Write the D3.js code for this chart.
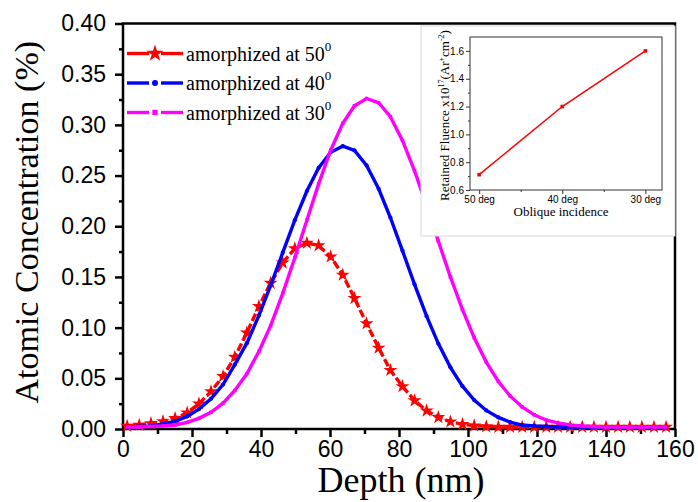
<!DOCTYPE html>
<html>
<head>
<meta charset="utf-8">
<script src="https://cdn.jsdelivr.net/npm/d3@7"></script>
<style>
  body { margin: 0; background: #fff; }
  svg { display: block; }
  .tick text { font-family: "Liberation Sans", Arial, sans-serif; fill: #000; }
  .axisTitle { font-family: "Liberation Serif", "Times New Roman", serif; fill: #000; }
</style>
</head>
<body>
<div id="chart"></div>
<script>
// ----- DATA ------------------------------------------------------------
const depth = [1.2, 4.7, 8.1, 11.6, 15.1, 18.6, 22.0, 25.5, 29.0, 32.4, 35.9, 39.4, 42.8, 46.3, 49.8,
  53.3, 56.7, 60.2, 63.7, 67.1, 70.6, 74.1, 77.5, 81.0, 84.5, 88.0, 91.4, 94.9, 98.4, 101.8,
  105.3, 108.8, 112.2, 115.7, 119.2, 122.7, 126.1, 129.6, 133.1, 136.5, 140.0, 143.5, 146.9,
  150.4, 153.9, 157.4];

const conc50 = [0.003, 0.004, 0.0055, 0.0075, 0.0105, 0.016, 0.025, 0.037, 0.052, 0.071, 0.095,
  0.121, 0.144, 0.164, 0.178, 0.1835, 0.181, 0.170, 0.152, 0.129, 0.104, 0.080, 0.058, 0.042,
  0.028, 0.018, 0.0115, 0.0072, 0.0046, 0.0033, 0.0025, 0.002, 0.002, 0.002, 0.002, 0.002,
  0.002, 0.002, 0.002, 0.002, 0.002, 0.002, 0.002, 0.002, 0.002, 0.002];

const conc40 = [0.002, 0.0025, 0.003, 0.005, 0.0076, 0.0124, 0.0195, 0.0298, 0.0439, 0.0635,
  0.0847, 0.112, 0.1416, 0.1739, 0.206, 0.2347, 0.2575, 0.273, 0.279, 0.2748, 0.260, 0.237,
  0.2086, 0.176, 0.1427, 0.1113, 0.0842, 0.0608, 0.0422, 0.0285, 0.0183, 0.0114, 0.0068,
  0.0039, 0.003, 0.0025, 0.002, 0.002, 0.002, 0.002, 0.002, 0.002, 0.002, 0.002, 0.002, 0.002];

const conc30 = [0.002, 0.002, 0.0025, 0.003, 0.004, 0.0065, 0.0105, 0.0165, 0.0255, 0.038,
  0.0545, 0.0765, 0.102, 0.1338, 0.169, 0.206, 0.2418, 0.275, 0.3016, 0.3189, 0.326, 0.3218,
  0.308, 0.2846, 0.2547, 0.2203, 0.1853, 0.150, 0.1177, 0.090, 0.066, 0.0469, 0.0326, 0.0217,
  0.014, 0.0087, 0.006, 0.004, 0.003, 0.0025, 0.002, 0.002, 0.002, 0.002, 0.002, 0.002];

const seriesNames = ["amorphized at 50", "amorphized at 40", "amorphized at 30"];

const xTicks = [0, 20, 40, 60, 80, 100, 120, 140, 160];
const yTicks = [0.00, 0.05, 0.10, 0.15, 0.20, 0.25, 0.30, 0.35, 0.40];

// inset
const insetAngles = ["50 deg", "40 deg", "30 deg"];
const insetFluence = [0.71, 1.20, 1.60];
const insetYTicks = [0.6, 0.8, 1.0, 1.2, 1.4, 1.6];

// ----- HELPERS ---------------------------------------------------------
// writes text pieces one after another, superscripts as their own text nodes
function _richText( parent, parts, size, supSize, supRise, anchorMiddle )
{
    const grp = parent.append("g");
    let cursor = 0;
    parts.forEach(p => {
        const t = grp.append("text")
            .attr("class", "axisTitle")
            .attr("x", cursor)
            .attr("y", p.sup ? -supRise : 0)
            .style("font-size", (p.sup ? supSize : size) + "px")
            .text(p.text);
        cursor += t.node().getComputedTextLength();
    });
    if( anchorMiddle )
    {
        grp.selectAll("text").attr("x", function() {
            return +d3.select(this).attr("x") - cursor / 2;
        });
    }
    return grp;
}

// ----- CHART -----------------------------------------------------------
const width = 698, height = 502;
const margin = { top: 23.5, right: 23, bottom: 73, left: 123 };
const innerWidth = width - margin.left - margin.right;
const innerHeight = height - margin.top - margin.bottom;

const svg = d3.select("#chart").append("svg")
    .attr("width", width)
    .attr("height", height);

const g = svg.append("g")
    .attr("transform", "translate(" + margin.left + "," + margin.top + ")");

const x = d3.scaleLinear().domain([0, 160]).range([0, innerWidth]);
const y = d3.scaleLinear().domain([0, 0.40]).range([innerHeight, 0]);

// minor ticks (no labels)
g.append("g")
    .attr("transform", "translate(0," + innerHeight + ")")
    .call(d3.axisBottom(x).tickValues(d3.range(10, 160, 20)).tickSize(5))
    .call(a => a.select(".domain").remove())
    .call(a => a.selectAll("text").remove())
    .selectAll("line").attr("stroke", "#000").attr("stroke-width", 2.5);

g.append("g")
    .call(d3.axisLeft(y).tickValues(d3.range(0.025, 0.4, 0.05)).tickSize(4))
    .call(a => a.select(".domain").remove())
    .call(a => a.selectAll("text").remove())
    .selectAll("line").attr("stroke", "#000").attr("stroke-width", 2.5);

// major axes
g.append("g")
    .attr("transform", "translate(0," + innerHeight + ")")
    .call(d3.axisBottom(x).tickValues(xTicks).tickSize(8).tickPadding(4).tickFormat(d3.format("d")))
    .call(a => a.select(".domain").remove())
    .call(a => a.selectAll("line").attr("stroke", "#000").attr("stroke-width", 2.5))
    .call(a => a.selectAll("text").style("font-size", "23px"));

g.append("g")
    .call(d3.axisLeft(y).tickValues(yTicks).tickSize(8).tickPadding(9).tickFormat(d3.format(".2f")))
    .call(a => a.select(".domain").remove())
    .call(a => a.selectAll("line").attr("stroke", "#000").attr("stroke-width", 2.5))
    .call(a => a.selectAll("text").style("font-size", "23px"));

// frame
g.append("rect")
    .attr("width", innerWidth)
    .attr("height", innerHeight)
    .attr("fill", "none")
    .attr("stroke", "#000")
    .attr("stroke-width", 2.5);

// axis titles
svg.append("text")
    .attr("class", "axisTitle")
    .attr("text-anchor", "middle")
    .attr("transform", "translate(38," + (margin.top + innerHeight / 2 - 4) + ") rotate(-90)")
    .style("font-size", "34px")
    .text("Atomic Concentration (%)");

svg.append("text")
    .attr("class", "axisTitle")
    .attr("text-anchor", "middle")
    .attr("x", margin.left + innerWidth / 2 + 2)
    .attr("y", 492)
    .style("font-size", "36px")
    .text("Depth (nm)");

// series
const series = [
    { name: seriesNames[0], values: conc50, color: "#ff0000", dash: "8,3", marker: "star" },
    { name: seriesNames[1], values: conc40, color: "#0000ff", dash: null, marker: "circle" },
    { name: seriesNames[2], values: conc30, color: "#ff00ff", dash: null, marker: "square" }
];

const line = d3.line()
    .x(d => x(d[0]))
    .y(d => y(d[1]));

const symbolOf = {
    star: d3.symbol().type(d3.symbolStar).size(60),
    circle: d3.symbol().type(d3.symbolCircle).size(14),
    square: d3.symbol().type(d3.symbolSquare).size(12)
};

series.forEach(s => {
    const pts = depth.map((d, i) => [d, s.values[i]]);
    const sg = g.append("g");
    sg.append("path")
        .datum(pts)
        .attr("d", line)
        .attr("fill", "none")
        .attr("stroke", s.color)
        .attr("stroke-width", 3.4)
        .attr("stroke-dasharray", s.dash);
    sg.selectAll("path.mk")
        .data(pts)
        .enter()
            .append("path")
            .attr("class", "mk")
            .attr("d", symbolOf[s.marker]())
            .attr("transform", d => "translate(" + x(d[0]) + "," + y(d[1]) + ")")
            .attr("fill", s.color);
});

// legend
const legend = g.append("g").attr("transform", "translate(4,30)");
series.forEach((s, i) => {
    const row = legend.append("g").attr("transform", "translate(0," + (i * 29.5) + ")");
    row.append("line").attr("x1", 0).attr("x2", 22).attr("stroke", s.color).attr("stroke-width", 3.4);
    row.append("line").attr("x1", 34).attr("x2", 56).attr("stroke", s.color).attr("stroke-width", 3.4);
    row.append("path")
        .attr("d", s.marker === "star" ? d3.symbol().type(d3.symbolStar).size(90)()
                                       : d3.symbol().type(s.marker === "circle" ? d3.symbolCircle : d3.symbolSquare).size(28)())
        .attr("transform", "translate(28,0)")
        .attr("fill", s.color);
    const lbl = row.append("g").attr("transform", "translate(59,7)");
    _richText( lbl, [{ text: s.name }, { text: "0", sup: true }], 20, 13, 10, false );
});

// ----- INSET -----------------------------------------------------------
const inset = { left: 470, top: 37, right: 662, bottom: 190 };

svg.append("rect")
    .attr("x", 421).attr("y", 26)
    .attr("width", 254).attr("height", 210)
    .attr("fill", "#fff")
    .attr("stroke", "#d8d8d8")
    .attr("stroke-width", 1);

const ix = d3.scaleLinear().domain([-0.11, 2.2]).range([inset.left, inset.right]);
const iy = d3.scaleLinear().domain([0.6, 1.7]).range([inset.bottom, inset.top]);

const ig = svg.append("g");

ig.append("g")
    .attr("transform", "translate(0," + inset.bottom + ")")
    .call(d3.axisBottom(ix).tickValues([0.5, 1.5]).tickSize(2))
    .call(a => a.select(".domain").remove())
    .call(a => a.selectAll("text").remove());

ig.append("g")
    .attr("transform", "translate(" + inset.left + ",0)")
    .call(d3.axisLeft(iy).tickValues(d3.range(0.7, 1.7, 0.2)).tickSize(2))
    .call(a => a.select(".domain").remove())
    .call(a => a.selectAll("text").remove());

ig.append("g")
    .attr("transform", "translate(0," + inset.bottom + ")")
    .call(d3.axisBottom(ix).tickValues([0, 1, 2]).tickSize(4).tickPadding(2).tickFormat((d, i) => insetAngles[i]))
    .call(a => a.select(".domain").remove())
    .call(a => a.selectAll("text").style("font-size", "10px").attr("fill", "#333"));

ig.append("g")
    .attr("transform", "translate(" + inset.left + ",0)")
    .call(d3.axisLeft(iy).tickValues(insetYTicks).tickSize(4).tickPadding(2).tickFormat(d3.format(".1f")))
    .call(a => a.select(".domain").remove())
    .call(a => a.selectAll("text").style("font-size", "10px").attr("fill", "#333"));

ig.selectAll(".tick line").attr("stroke", "#333").attr("stroke-width", 1);

ig.append("rect")
    .attr("x", inset.left).attr("y", inset.top)
    .attr("width", inset.right - inset.left)
    .attr("height", inset.bottom - inset.top)
    .attr("fill", "none")
    .attr("stroke", "#333")
    .attr("stroke-width", 1);

const insetPts = insetFluence.map((v, i) => [i, v]);
ig.append("path")
    .datum(insetPts)
    .attr("d", d3.line().x(d => ix(d[0])).y(d => iy(d[1])))
    .attr("fill", "none")
    .attr("stroke", "#ff0000")
    .attr("stroke-width", 1.5);
ig.selectAll("rect.pt")
    .data(insetPts)
    .enter()
        .append("rect")
        .attr("class", "pt")
        .attr("x", d => ix(d[0]) - 1.8)
        .attr("y", d => iy(d[1]) - 1.8)
        .attr("width", 3.6)
        .attr("height", 3.6)
        .attr("fill", "#ff0000");

const ttlGroup = ig.append("g")
    .attr("transform", "translate(449," + ((inset.top + inset.bottom) / 2 + 2) + ") rotate(-90)");
_richText( ttlGroup, [
    { text: "Retained Fluence x10" },
    { text: "17", sup: true },
    { text: " (Ar" },
    { text: "+", sup: true },
    { text: "cm" },
    { text: "-2", sup: true },
    { text: ")" }
], 13, 8, 5, true );

ig.append("text")
    .attr("class", "axisTitle")
    .attr("text-anchor", "middle")
    .attr("x", (inset.left + inset.right) / 2 - 5)
    .attr("y", 216)
    .style("font-size", "13px")
    .text("Oblique incidence");
</script>
</body>
</html>
